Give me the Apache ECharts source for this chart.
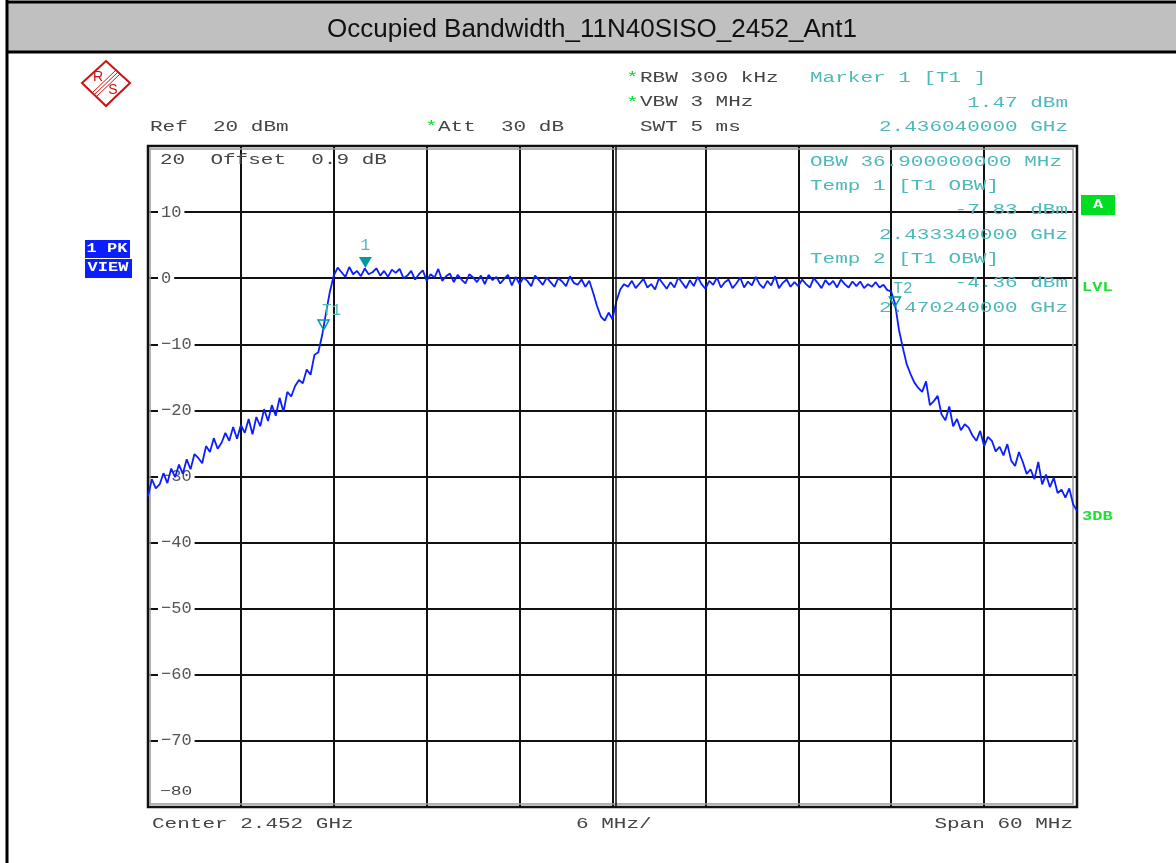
<!DOCTYPE html>
<html>
<head>
<meta charset="utf-8">
<title>Occupied Bandwidth_11N40SISO_2452_Ant1</title>
<script src="https://cdn.jsdelivr.net/npm/echarts@6/dist/echarts.min.js"></script>
<style>
html, body { margin: 0; padding: 0; background: #fff; }
#chart { width: 1176px; height: 863px; }
</style>
</head>
<body>
<div id="chart"></div>
<script>
// sweep: center 2.452 GHz, span 60 MHz, one trace point every 0.25 MHz
const CENTER_MHZ = 2452;
const START_MHZ = 2422;
const STEP_MHZ = 0.25;
const X_DIV_MHZ = 6;

// y scale (dBm)
const Y_MIN = -80;
const Y_MAX = 20;
const Y_DIV = 10;

// trace level in dBm, 8 points per row = 2 MHz, rows start at 2422, 2424 ... 2480, last point 2482
const traceDbm = [
  -33.0, -30.4, -31.8, -31.2, -29.5, -31.0, -28.8, -30.1,
  -28.2, -29.6, -27.4, -28.9, -26.6, -27.2, -28.0, -25.4,
  -26.3, -24.2, -25.8, -24.9, -23.4, -24.6, -22.5, -24.3,
  -22.2, -23.4, -21.3, -23.6, -21.0, -22.4, -19.8, -21.6,
  -19.2, -20.8, -18.1, -20.2, -17.2, -17.9, -16.3, -15.4,
  -15.9, -13.8, -14.6, -11.6, -11.2, -8.6, -5.2, -2.0,
  0.4, 1.6, 0.9, 0.2, 1.7, 0.6, 1.1, 0.3,
  1.47, 0.6, 0.9, 1.5, 0.4, 1.1, 0.2, 1.3,
  0.8, 1.4, 0.0, 0.4, 1.1, -0.2, 0.6, 1.2,
  -0.4, 0.6, 0.1, 1.4, -0.4, 0.3, 0.7, -0.6,
  0.5, -0.2, -0.8, 0.6, 0.1, -0.6, 0.4, -0.9,
  0.5, -0.3, 0.2, -0.8, -0.1, 0.5, -1.1, 0.2,
  -0.9, 0.1, -0.4, -1.2, 0.4, -0.3, -1.0, 0.1,
  -0.6, -1.3, 0.0, -0.5, -1.2, 0.3, -0.7, -1.0,
  -0.2, -1.3, -0.4, -2.2, -4.2, -5.8, -6.4, -5.2,
  -6.2, -3.5, -1.7, -0.9, -1.3, -0.4, -1.5, -0.8,
  -0.1, -1.4, -0.9, -1.7, 0.0, -0.8, -1.6, -0.6,
  -1.4, 0.1, -0.7, -1.5, -0.3, -1.2, 0.2, -0.9,
  -1.6, -0.4, -1.0, 0.1, -1.4, -0.6, -0.2, -1.5,
  -0.8, 0.1, -1.4, -0.5, -1.1, 0.2, -0.9, -1.5,
  -0.4, -1.1, 0.3, -1.5, -0.7, -0.2, -1.3, -0.6,
  -1.2, -0.2, -0.9, -1.4, 0.0, -0.7, -1.5, -0.3,
  -1.0, -0.4, -1.4, -0.2, -0.9, -1.4, -0.5, -1.2,
  -0.5, -1.5, -0.9, -1.3, -0.6, -1.4, -1.0, -1.8,
  -2.0, -3.9, -7.8, -10.5, -13.0, -14.5, -15.8, -16.6,
  -17.2, -15.6, -19.2, -18.6, -17.8, -20.6, -21.5, -19.4,
  -22.4, -21.3, -23.0, -22.1, -22.6, -23.8, -24.6, -23.1,
  -25.4, -24.0, -24.6, -26.2, -25.5, -26.8, -25.1, -27.6,
  -28.4, -26.3, -27.8, -29.6, -28.9, -30.4, -27.8, -31.2,
  -29.7, -31.6, -30.2, -32.5, -32.0, -33.2, -31.8, -34.2,
  -35.2
];

// markers [MHz, dBm]
const marker1 = [2436.04, 1.47];
const markerT1 = [2433.34, -7.83];
const markerT2 = [2470.24, -4.36];

// texts
const titleText = 'Occupied Bandwidth_11N40SISO_2452_Ant1';
const settingsLines = ['RBW 300 kHz', 'VBW 3 MHz', 'SWT 5 ms'];
const markerLines = ['Marker 1 [T1 ]', '1.47 dBm', '2.436040000 GHz'];
const obwLines = [
  ['OBW 36.900000000 MHz', 'left'],
  ['Temp 1 [T1 OBW]', 'left'],
  ['-7.83 dBm', 'right'],
  ['2.433340000 GHz', 'right'],
  ['Temp 2 [T1 OBW]', 'left'],
  ['-4.36 dBm', 'right'],
  ['2.470240000 GHz', 'right']
];

const MONO = '"Liberation Mono", "DejaVu Sans Mono", monospace';
const CYAN = '#4fb8b8';
const TEAL = '#009b9b';
const GREY_TXT = '#444';
const GREEN = '#00dd22';

const chart = echarts.init(document.getElementById('chart'));

const traceData = traceDbm.map((v, i) => [START_MHZ + i * STEP_MHZ - CENTER_MHZ, v]);
const rel = (m) => [m[0] - CENTER_MHZ, m[1]];

// wide-and-short text, like the analyzer font
function txt(x, y, s, color, align, size, weight) {
  return {
    type: 'text', x: x, y: y, scaleY: 0.7, z: 20, silent: true,
    style: {
      text: s, fill: color,
      font: (weight || 'normal') + ' ' + (size || 21) + 'px ' + MONO,
      textAlign: align || 'left', align: align || 'left',
      textVerticalAlign: 'middle', verticalAlign: 'middle'
    }
  };
}

const graphics = [];
// frame + title bar
graphics.push({ type: 'rect', shape: { x: 8, y: 3, width: 1168, height: 49 }, style: { fill: '#c0c0c0' }, z: 1 });
graphics.push({ type: 'line', shape: { x1: 6, y1: 2, x2: 1176, y2: 2 }, style: { stroke: '#000', lineWidth: 3 }, z: 2 });
graphics.push({ type: 'line', shape: { x1: 6, y1: 52, x2: 1176, y2: 52 }, style: { stroke: '#000', lineWidth: 3 }, z: 2 });
graphics.push({ type: 'line', shape: { x1: 7, y1: 0, x2: 7, y2: 863 }, style: { stroke: '#000', lineWidth: 3 }, z: 2 });
graphics.push({
  type: 'text', x: 592, y: 30, z: 3,
  style: { text: titleText, fill: '#111', font: '26px "Liberation Sans", Arial, sans-serif', textAlign: 'center', align: 'center', textVerticalAlign: 'middle', verticalAlign: 'middle' }
});

// R&S logo
graphics.push({ type: 'polygon', shape: { points: [[106, 61], [130, 83], [106, 106], [82, 83]] }, style: { fill: 'none', stroke: '#cc1111', lineWidth: 2 }, z: 5 });
[-2, 0, 2].forEach((d) => {
  graphics.push({ type: 'line', shape: { x1: 118 + d, y1: 72 + d, x2: 94 + d, y2: 95 + d }, style: { stroke: '#cc1111', lineWidth: 1 }, z: 5 });
});
graphics.push({ type: 'text', x: 98, y: 77, z: 5, style: { text: 'R', fill: '#cc1111', font: '14px "Liberation Sans", sans-serif', align: 'center', verticalAlign: 'middle' } });
graphics.push({ type: 'text', x: 113, y: 90, z: 5, style: { text: 'S', fill: '#cc1111', font: '14px "Liberation Sans", sans-serif', align: 'center', verticalAlign: 'middle' } });

// header settings
graphics.push(txt(150, 127, 'Ref  20 dBm', GREY_TXT));
graphics.push(txt(425, 127, '*', GREEN));
graphics.push(txt(438, 127, 'Att  30 dB', GREY_TXT));
graphics.push(txt(626, 78, '*', GREEN));
graphics.push(txt(626, 103, '*', GREEN));
settingsLines.forEach((s, i) => graphics.push(txt(640, 78 + i * 24.5, s, GREY_TXT)));
graphics.push(txt(810, 78, markerLines[0], CYAN));
graphics.push(txt(1068, 103, markerLines[1], CYAN, 'right'));
graphics.push(txt(1068, 127, markerLines[2], CYAN, 'right'));
obwLines.forEach((l, i) => {
  graphics.push(txt(l[1] === 'left' ? 810 : 1068, 162 + i * 24.3, l[0], CYAN, l[1]));
});

// inside-grid reference line text
graphics.push(txt(160, 160, '20  Offset  0.9 dB', GREY_TXT));
graphics.push(txt(160, 792, '\u221280', GREY_TXT, 'left', 18));

// bottom texts
graphics.push(txt(152, 824, 'Center 2.452 GHz', GREY_TXT));
graphics.push(txt(576, 824, '6 MHz/', GREY_TXT));
graphics.push(txt(1073, 824, 'Span 60 MHz', GREY_TXT, 'right'));

// side badges
graphics.push({ type: 'rect', shape: { x: 85, y: 240, width: 45, height: 18 }, style: { fill: '#0a1eff' }, z: 5 });
graphics.push({ type: 'rect', shape: { x: 85, y: 259, width: 47, height: 19 }, style: { fill: '#0a1eff' }, z: 5 });
graphics.push(txt(107, 249, '1 PK', '#fff', 'center', 17, 'bold'));
graphics.push(txt(108, 268, 'VIEW', '#fff', 'center', 17, 'bold'));
graphics.push({ type: 'rect', shape: { x: 1081, y: 195, width: 34, height: 20 }, style: { fill: GREEN }, z: 5 });
graphics.push(txt(1098, 205, 'A', '#fff', 'center', 17, 'bold'));
graphics.push(txt(1082, 288, 'LVL', '#22dd33', 'left', 17, 'bold'));
graphics.push(txt(1082, 517, '3DB', '#22dd33', 'left', 17, 'bold'));

// inner grey frame line
graphics.push({ type: 'rect', shape: { x: 150, y: 149, width: 923, height: 655 }, style: { fill: 'none', stroke: '#999', lineWidth: 1.5 }, z: 3, silent: true });

const triDown = 'path://M0,0 L12,0 L6,10 Z';

const option = {
  animation: false,
  backgroundColor: '#fff',
  grid: { left: 148, right: 99, top: 146, bottom: 56, show: true, borderColor: '#111', borderWidth: 2.5 },
  xAxis: {
    type: 'value',
    min: -30, max: 30, interval: X_DIV_MHZ,
    axisLine: { show: false }, axisTick: { show: false }, axisLabel: { show: false },
    splitLine: { show: true, lineStyle: { color: '#111', width: 2 } }
  },
  yAxis: [
    {
      type: 'value', min: Y_MIN, max: Y_MAX, interval: Y_DIV, z: 0,
      axisLine: { show: false }, axisTick: { show: false }, axisLabel: { show: false },
      splitLine: { show: true, lineStyle: { color: '#111', width: 2 } }
    },
    {
      type: 'value', min: Y_MIN, max: Y_MAX, interval: Y_DIV, z: 1, position: 'left', offset: 0,
      axisLine: { show: false }, axisTick: { show: false }, splitLine: { show: false },
      axisLabel: {
        inside: true, margin: 10, showMinLabel: false, showMaxLabel: false,
        color: '#555', fontSize: 17, fontFamily: MONO,
        backgroundColor: '#fff', padding: [0, 3],
        formatter: (v) => String(v).replace('-', '\u2212')
      }
    }
  ],
  graphic: graphics,
  series: [{
    type: 'line',
    data: traceData,
    yAxisIndex: 0,
    z: 4,
    showSymbol: false,
    symbol: 'none',
    lineStyle: { color: '#0a1eff', width: 1.8 },
    markLine: {
      silent: true, symbol: 'none', animation: false,
      label: { show: false },
      lineStyle: { color: '#111', width: 1.5, type: 'solid' },
      data: [{ xAxis: 0.2 }]
    },
    markPoint: {
      silent: true, animation: false,
      symbol: triDown,
      data: [
        {
          coord: rel(marker1), symbolSize: [13, 11], symbolOffset: [0, -6],
          itemStyle: { color: TEAL },
          label: { show: true, position: 'top', distance: 3, formatter: '1', color: CYAN, fontSize: 16, fontFamily: MONO }
        },
        {
          coord: rel(markerT1), symbolSize: [11, 10], symbolOffset: [0, -5],
          itemStyle: { color: 'rgba(0,0,0,0)', borderColor: TEAL, borderWidth: 1.5 },
          label: { show: true, position: 'top', distance: 0, offset: [8, 0], formatter: 'T1', color: CYAN, fontSize: 16, fontFamily: MONO }
        },
        {
          coord: rel(markerT2), symbolSize: [11, 10], symbolOffset: [0, -5],
          itemStyle: { color: 'rgba(0,0,0,0)', borderColor: TEAL, borderWidth: 1.5 },
          label: { show: true, position: 'top', distance: 0, offset: [8, 0], formatter: 'T2', color: CYAN, fontSize: 16, fontFamily: MONO }
        }
      ]
    }
  }]
};

chart.setOption(option);
</script>
</body>
</html>
